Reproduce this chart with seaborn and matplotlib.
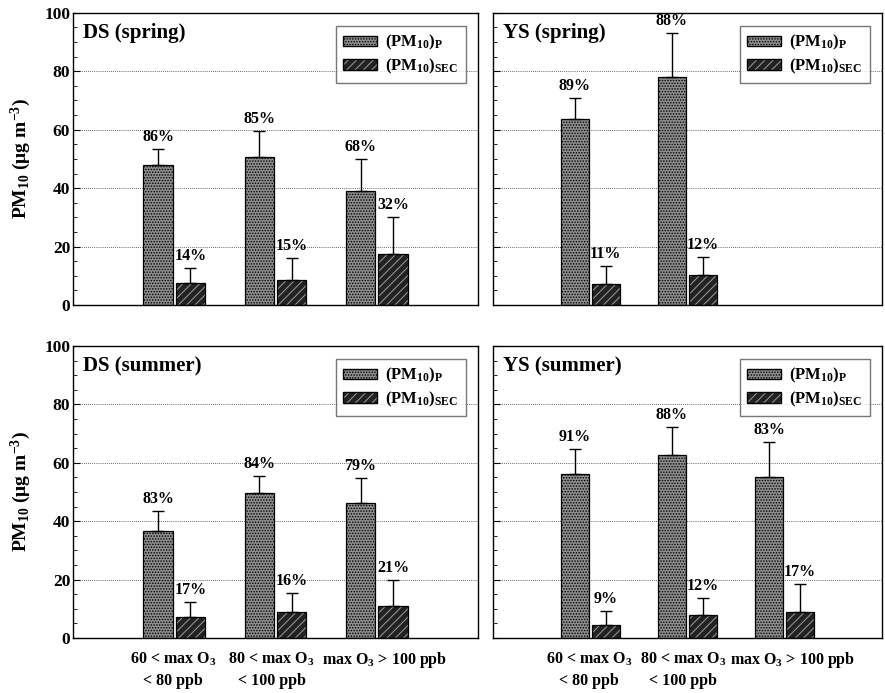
import pandas as pd
import seaborn as sns
import matplotlib.pyplot as plt
import matplotlib.patches as mpatches
import matplotlib.transforms as mtransforms
from matplotlib.ticker import MultipleLocator

# categories
cats = ["60 < max O$_3$\n< 80 ppb", "80 < max O$_3$\n< 100 ppb", "max O$_3$ > 100 ppb"]
fracs = ["P", "SEC"]

# DS spring
ds_spr_p = [48, 50.5, 39]
ds_spr_p_err = [5.5, 9, 11]
ds_spr_sec = [7.5, 8.5, 17.5]
ds_spr_sec_err = [5, 7.5, 12.5]
ds_spr_pct = [["86%", "85%", "68%"], ["14%", "15%", "32%"]]

# YS spring (no data for the highest ozone class)
ys_spr_p = [63.7, 78]
ys_spr_p_err = [7.2, 15]
ys_spr_sec = [7.2, 10.3]
ys_spr_sec_err = [6.2, 6.1]
ys_spr_pct = [["89%", "88%"], ["11%", "12%"]]

# DS summer
ds_sum_p = [36.6, 49.7, 46.2]
ds_sum_p_err = [6.9, 5.8, 8.6]
ds_sum_sec = [7.2, 8.9, 11]
ds_sum_sec_err = [5.1, 6.5, 8.9]
ds_sum_pct = [["83%", "84%", "79%"], ["17%", "16%", "21%"]]

# YS summer
ys_sum_p = [56.2, 62.7, 55.1]
ys_sum_p_err = [8.5, 9.6, 12]
ys_sum_sec = [4.5, 7.9, 8.9]
ys_sum_sec_err = [4.7, 5.8, 9.6]
ys_sum_pct = [["91%", "88%", "83%"], ["9%", "12%", "17%"]]

sns.set_style("white")
plt.rcParams['font.family'] = ['Liberation Serif', 'DejaVu Serif']
plt.rcParams['font.weight'] = 'bold'
plt.rcParams['text.color'] = 'black'
plt.rcParams['axes.labelcolor'] = 'black'
plt.rcParams['xtick.color'] = 'black'
plt.rcParams['ytick.color'] = 'black'
plt.rcParams['mathtext.fontset'] = 'custom'
plt.rcParams['mathtext.rm'] = 'Liberation Serif:bold'
plt.rcParams['mathtext.bf'] = 'Liberation Serif:bold'
plt.rcParams['mathtext.it'] = 'Liberation Serif:bold:italic'
plt.rcParams['hatch.linewidth'] = 0.7

P_FACE, SEC_FACE = "#8e8e8e", "#222222"
SEC_HATCH = (0.62, 0.62, 0.62, 1.0)


def style_bar(bar, frac):
    if frac == "P":
        bar.set_facecolor(P_FACE)
        bar.set_hatch("......")
        bar.set_edgecolor("black")
    else:
        bar.set_facecolor(SEC_FACE)
        bar.set_hatch("////")
        bar.set_edgecolor("black")
        bar._hatch_color = SEC_HATCH
    bar.set_linewidth(0.9)


def panel(ax, title, p, p_err, sec, sec_err, pct, ylab, xlab):
    n = len(p)
    df = pd.DataFrame({
        "cond": cats[:n] * 2,
        "frac": ["P"] * n + ["SEC"] * n,
        "val": p + sec,
    })
    errs = {"P": p_err, "SEC": sec_err}
    vals = {"P": p, "SEC": sec}
    sns.barplot(data=df, x="cond", y="val", hue="frac", order=cats, hue_order=fracs,
                width=0.64, gap=0.1, errorbar=None, legend=False, ax=ax)
    bar_conts = list(ax.containers)
    for k, cont in enumerate(bar_conts):
        frac = fracs[k]
        for bar in cont:
            style_bar(bar, frac)
            xc = bar.get_x() + bar.get_width() / 2
            i = int(round(xc))
            if i >= n:
                continue
            top = vals[frac][i] + errs[frac][i]
            ax.errorbar(xc, vals[frac][i], yerr=[[0], [errs[frac][i]]], fmt="none",
                        ecolor="black", elinewidth=1, capsize=4, capthick=1)
            ax.annotate(pct[k][i], (xc, top), xytext=(0, 3), textcoords="offset points",
                        ha="center", va="bottom", fontsize=11.5, fontweight="bold")

    ax.set_xlim(-1.0, 3.0)
    ax.set_ylim(0, 100)
    ax.yaxis.set_major_locator(MultipleLocator(20))
    ax.yaxis.set_minor_locator(MultipleLocator(5))
    ax.tick_params(axis="y", which="major", direction="in", length=5, left=True,
                   labelsize=12.5, labelleft=ylab, pad=2)
    ax.tick_params(axis="y", which="minor", direction="in", length=3, left=True)
    ax.tick_params(axis="x", length=0, labelsize=11.5, labelbottom=xlab, pad=9)
    if xlab:
        # nudge the labels apart a little, as in the original
        labs = ax.get_xticklabels()
        for lab, dx in zip(labs, [-1, -4, 8]):
            shift = mtransforms.ScaledTranslation(dx / 100, 0, ax.figure.dpi_scale_trans)
            lab.set_transform(lab.get_transform() + shift)
            lab.set_linespacing(1.45)
    ax.grid(axis="y", which="major", linestyle=(0, (1, 1.5)), color="#333333", linewidth=0.6)
    ax.set_axisbelow(True)
    for s in ax.spines.values():
        s.set_color("black")
        s.set_linewidth(1)
    ax.set_xlabel("")
    if ylab:
        ax.set_ylabel("PM$_{10}$ (μg m$^{-3}$)", fontsize=14, fontweight="bold", labelpad=8)
    else:
        ax.set_ylabel("")
    ax.text(0.025, 0.965, title, transform=ax.transAxes, ha="left", va="top",
            fontsize=15, fontweight="bold")
    handles = [
        mpatches.Patch(facecolor=P_FACE, edgecolor="black", hatch="......", label="(PM$_{10}$)$_\\mathrm{P}$"),
        mpatches.Patch(facecolor=SEC_FACE, edgecolor="black", hatch="////", label="(PM$_{10}$)$_\\mathrm{SEC}$"),
    ]
    handles[1]._hatch_color = SEC_HATCH
    leg = ax.legend(handles=handles, loc="upper right", bbox_to_anchor=(0.99, 0.985),
                    fancybox=False, frameon=True, fontsize=12, handlelength=2.0,
                    handleheight=0.6, handletextpad=0.5, borderpad=0.45, labelspacing=0.25,
                    edgecolor="#555555")
    leg.get_frame().set_linewidth(1)


fig = plt.figure(figsize=(8.85, 6.93), dpi=100)
ax1 = fig.add_axes([0.0825, 0.560, 0.4576, 0.4214])
ax2 = fig.add_axes([0.557, 0.560, 0.4395, 0.4214])
ax3 = fig.add_axes([0.0825, 0.0794, 0.4576, 0.4214])
ax4 = fig.add_axes([0.557, 0.0794, 0.4395, 0.4214])

panel(ax1, "DS (spring)", ds_spr_p, ds_spr_p_err, ds_spr_sec, ds_spr_sec_err, ds_spr_pct, True, False)
panel(ax2, "YS (spring)", ys_spr_p, ys_spr_p_err, ys_spr_sec, ys_spr_sec_err, ys_spr_pct, False, False)
panel(ax3, "DS (summer)", ds_sum_p, ds_sum_p_err, ds_sum_sec, ds_sum_sec_err, ds_sum_pct, True, True)
panel(ax4, "YS (summer)", ys_sum_p, ys_sum_p_err, ys_sum_sec, ys_sum_sec_err, ys_sum_pct, False, True)

fig.savefig("out.png", dpi=100)
